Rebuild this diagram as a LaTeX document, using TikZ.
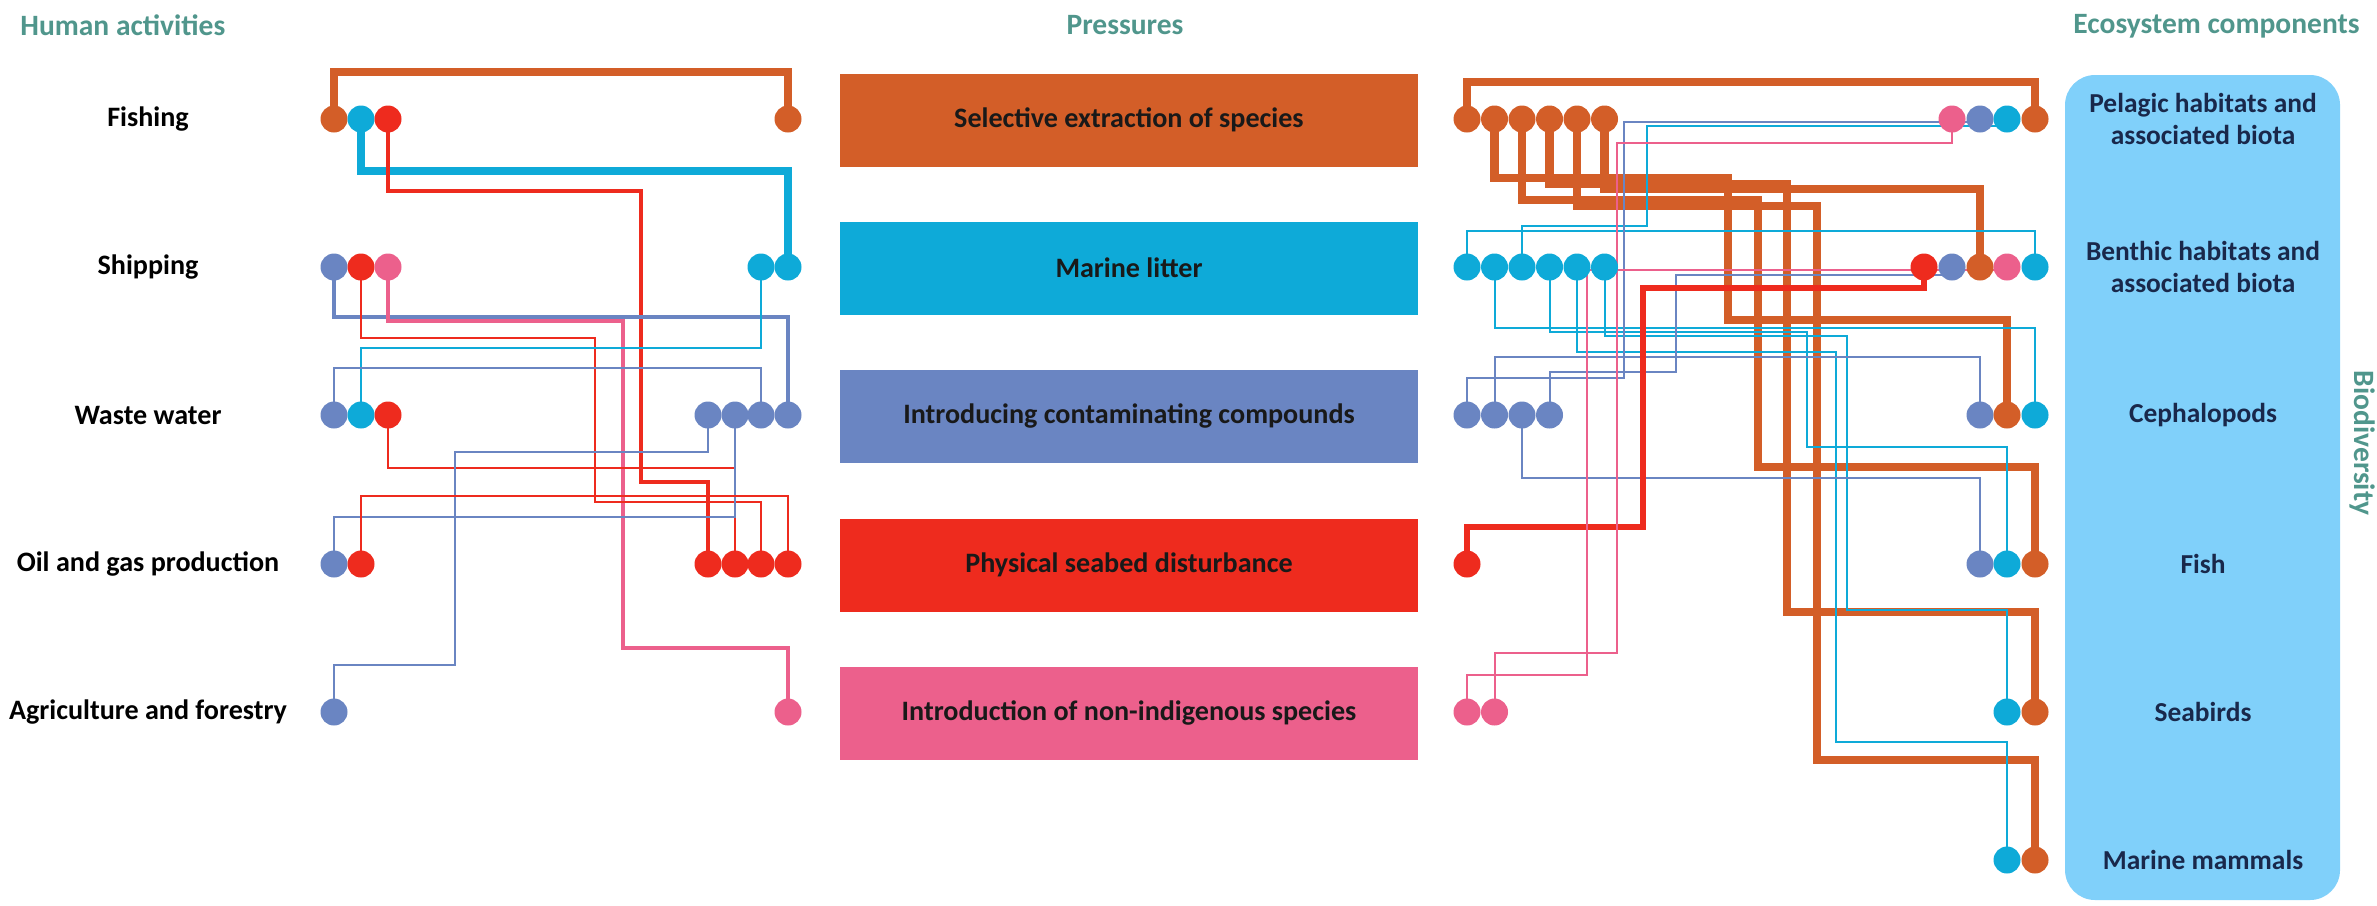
\documentclass[tikz,border=0pt]{standalone}
\usepackage{fontspec}
\setmainfont{Carlito}
\usetikzlibrary{backgrounds}

\definecolor{extr}{RGB}{211,94,40}
\definecolor{litt}{RGB}{14,170,216}
\definecolor{cont}{RGB}{106,133,194}
\definecolor{phys}{RGB}{238,43,30}
\definecolor{nonind}{RGB}{236,96,140}
\definecolor{headcol}{RGB}{80,150,140}
\definecolor{biobox}{RGB}{128,208,250}
\definecolor{navytext}{RGB}{25,40,75}

\begin{document}
\begin{tikzpicture}[x=0.1mm,y=-0.1mm,
  blob/.style={circle,inner sep=0pt,minimum size=2.7mm,fill=#1},
  bigwire/.style={line width=0.85mm,draw=#1},
  midwire/.style={line width=0.45mm,draw=#1},
  wire/.style={line width=0.2mm,draw=#1},
  activity/.style={font=\bfseries\fontsize{8}{9.6}\selectfont},
  pressure/.style={fill=#1,minimum width=57.8mm,minimum height=9.3mm,inner sep=0pt,
    font=\bfseries\fontsize{8}{9.6}\selectfont,text=black!90},
  component/.style={align=center,font=\bfseries\fontsize{7.8}{9}\selectfont,text=navytext},
  heading/.style={font=\bfseries\fontsize{8.4}{10}\selectfont,text=headcol}]
\useasboundingbox (0,0) rectangle (2377,905);

% headings
\node[heading,anchor=west] (hact) at (8,25) {Human activities};
\node[heading] (hpre) at (1125,25) {Pressures};
\node[heading,anchor=east] (heco) at (2372,26) {Ecosystem components};
\node[heading,rotate=-90] (bio) at (2362,443) {Biodiversity};

% human activities
\node[activity] (fishing) at (148,119) {Fishing};
\node[activity] (shipping) at (148,267) {Shipping};
\node[activity] (waste) at (148,415) {Waste water};
\node[activity] (oilgas) at (148,564) {Oil and gas production};
\node[activity] (agri) at (148,712) {Agriculture and forestry};

% pressures
\node[pressure=extr] (selex) at (1129,120) {Selective extraction of species};
\node[pressure=litt] (litter) at (1129,268) {Marine litter};
\node[pressure=cont] (contam) at (1129,416) {Introducing contaminating compounds};
\node[pressure=phys] (seabed) at (1129,565) {Physical seabed disturbance};
\node[pressure=nonind] (nis) at (1129,713) {Introduction of non-indigenous species};

% ecosystem components
\node[component] (pelagic) at (2203,119) {Pelagic habitats and\\associated biota};
\node[component] (benthic) at (2203,267) {Benthic habitats and\\associated biota};
\node[component] (cephal) at (2203,415) {Cephalopods};
\node[component] (fish) at (2203,564) {Fish};
\node[component] (birds) at (2203,712) {Seabirds};
\node[component] (mammals) at (2203,860) {Marine mammals};

% dots, left half
\foreach \n/\x/\y/\c in {f1/334/119/extr, f2/361/119/litt, f3/388/119/phys, fr/788/119/extr,
  s1/334/267/cont, s2/361/267/phys, s3/388/267/nonind, sr1/761/267/litt, sr2/788/267/litt,
  w1/334/415/cont, w2/361/415/litt, w3/388/415/phys,
  wr1/708/415/cont, wr2/735/415/cont, wr3/761/415/cont, wr4/788/415/cont,
  o1/334/564/cont, o2/361/564/phys,
  or1/708/564/phys, or2/735/564/phys, or3/761/564/phys, or4/788/564/phys,
  a1/334/712/cont, ar/788/712/nonind}
  \node[blob=\c] (\n) at (\x,\y) {};

% dots, right half
\foreach \i in {1,...,6} {
  \node[blob=extr] (ex\i) at ({1467+27.5*(\i-1)},119) {};
  \node[blob=litt] (li\i) at ({1467+27.5*(\i-1)},267) {};
}
\foreach \i in {1,...,4}
  \node[blob=cont] (co\i) at ({1467+27.5*(\i-1)},415) {};
\node[blob=phys] (ph1) at (1467,564) {};
\node[blob=nonind] (ni1) at (1467,712) {};
\node[blob=nonind] (ni2) at (1494.5,712) {};

\foreach \n/\x/\y/\c in {pel1/1952/119/nonind, pel2/1980/119/cont, pel3/2007/119/litt, pel4/2035/119/extr,
  ben1/1924/267/phys, ben2/1952/267/cont, ben3/1980/267/extr, ben4/2007/267/nonind, ben5/2035/267/litt,
  cep1/1980/415/cont, cep2/2007/415/extr, cep3/2035/415/litt,
  fis1/1980/564/cont, fis2/2007/564/litt, fis3/2035/564/extr,
  sea1/2007/712/litt, sea2/2035/712/extr,
  mam1/2007/860/litt, mam2/2035/860/extr}
  \node[blob=\c] (\n) at (\x,\y) {};

\begin{scope}[on background layer]
\fill[biobox,rounded corners=3mm] (2065,75) rectangle (2340,900);

% activities to pressures
\draw[bigwire=extr] (f1.center) -- (f1.center |- 0,72) -| (fr.center);
\draw[bigwire=litt] (f2.center) -- (f2.center |- 0,171) -| (sr2.center);
\draw[midwire=phys] (f3.center) -- (f3.center |- 0,191) -- (641,191) -- (641,482) -| (or1.center);
\draw[midwire=cont] (s1.center) -- (s1.center |- 0,317) -| (wr4.center);
\draw[midwire=nonind] (s3.center) -- (s3.center |- 0,321) -- (623,321) -- (623,648) -| (ar.center);
\draw[wire=phys] (s2.center) -- (s2.center |- 0,338) -- (595,338) -- (595,502) -| (or3.center);
\draw[wire=litt] (sr1.center) -- (sr1.center |- 0,348) -| (w2.center);
\draw[wire=cont] (w1.center) -- (w1.center |- 0,368) -| (wr3.center);
\draw[wire=phys] (w3.center) -- (w3.center |- 0,468) -| (or2.center);
\draw[wire=cont] (wr1.center) -- (wr1.center |- 0,452) -- (455,452) -- (455,665) -| (a1.center);
\draw[wire=cont] (wr2.center) -- (wr2.center |- 0,517) -| (o1.center);
\draw[wire=phys] (o2.center) -- (o2.center |- 0,496) -| (or4.center);

% pressures to ecosystem components
\draw[bigwire=extr] (ex1.center) -- (ex1.center |- 0,82) -| (pel4.center);
\draw[bigwire=extr] (ex2.center) -- (ex2.center |- 0,178) -- (1728,178) -- (1728,320) -| (cep2.center);
\draw[bigwire=extr] (ex3.center) -- (ex3.center |- 0,200) -- (1758,200) -- (1758,467) -| (fis3.center);
\draw[bigwire=extr] (ex4.center) -- (ex4.center |- 0,184) -- (1787,184) -- (1787,612) -| (sea2.center);
\draw[bigwire=extr] (ex5.center) -- (ex5.center |- 0,206) -- (1817,206) -- (1817,760) -| (mam2.center);
\draw[bigwire=extr] (ex6.center) -- (ex6.center |- 0,189) -| (ben3.center);

\draw[wire=litt] (li1.center) -- (li1.center |- 0,231) -| (ben5.center);
\draw[wire=litt] (li3.center) -- (li3.center |- 0,226) -- (1647,226) -- (1647,126) -- (pel3.center |- 0,126);
\draw[wire=litt] (li2.center) -- (li2.center |- 0,328) -| (cep3.center);
\draw[wire=litt] (li4.center) -- (li4.center |- 0,332) -- (1807,332) -- (1807,447) -| (fis2.center);
\draw[wire=litt] (li6.center) -- (li6.center |- 0,336) -- (1847,336) -- (1847,610) -| (sea1.center);
\draw[wire=litt] (li5.center) -- (li5.center |- 0,352) -- (1836,352) -- (1836,742) -| (mam1.center);

\draw[wire=cont] (co1.center) -- (co1.center |- 0,378) -- (1624,378) -- (1624,122) -- (pel2.center |- 0,122);
\draw[wire=cont] (co2.center) -- (co2.center |- 0,357) -| (cep1.center);
\draw[wire=cont] (co4.center) -- (co4.center |- 0,372) -- (1676,372) -- (1676,275) -- (ben2.center |- 0,275);
\draw[wire=cont] (co3.center) -- (co3.center |- 0,478) -| (fis1.center);

\draw[line width=0.65mm,phys] (ph1.center) -- (ph1.center |- 0,527) -- (1643,527) -- (1643,288) -| (ben1.center);

\draw[wire=nonind] (ni1.center) -- (ni1.center |- 0,675) -- (1587,675) -- (1587,270) -- (ben4.center |- 0,270);
\draw[wire=nonind] (ni2.center) -- (ni2.center |- 0,653) -- (1617,653) -- (1617,143) -| (pel1.center);
\end{scope}
\end{tikzpicture}
\end{document}
